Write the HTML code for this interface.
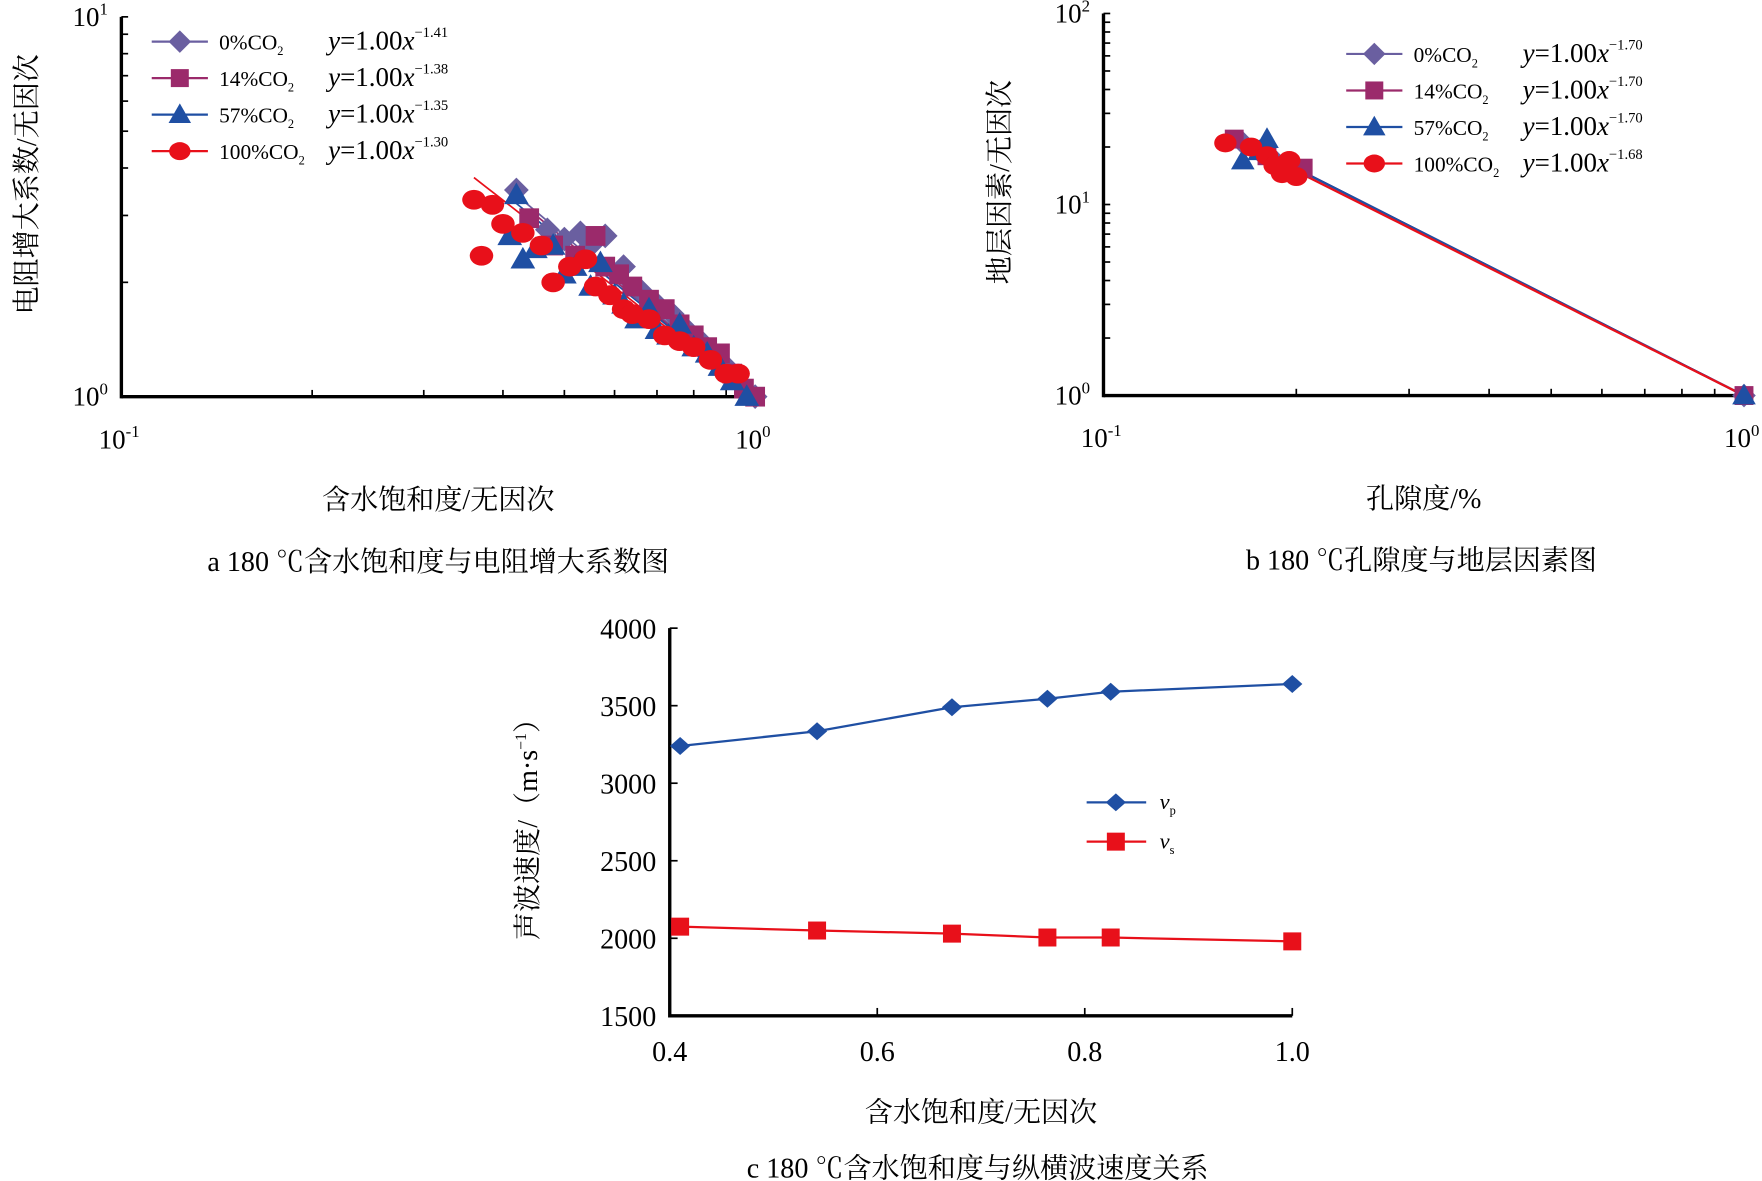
<!DOCTYPE html>
<html><head><meta charset="utf-8">
<style>
html,body{margin:0;padding:0;background:#fff;}
svg{display:block;font-family:"Liberation Serif","Noto Serif CJK SC",serif;}
</style></head>
<body>
<svg id="fig" width="1762" height="1181" viewBox="0 0 1568 1051" xmlns="http://www.w3.org/2000/svg">
<g id="ga"></g>
<g id="gb"></g>
<g id="gc"></g>
</svg>
<script>
// ---- Chart a data ----
const aSw0 = [0.42,0.47,0.50,0.53,0.55,0.58,0.62,0.66,0.70,0.74,0.78,0.82,0.86,0.90,0.95,1.0];
const aI0  = [3.5,2.75,2.6,2.7,2.5,2.65,2.2,1.9,1.75,1.65,1.5,1.4,1.3,1.2,1.08,1.0];
const aSw14 = [0.44,0.48,0.52,0.56,0.58,0.61,0.64,0.68,0.72,0.76,0.80,0.84,0.88,0.92,0.96,1.0];
const aI14  = [2.95,2.5,2.35,2.65,2.2,2.1,1.95,1.8,1.7,1.55,1.45,1.35,1.3,1.15,1.05,1.0];
const aSw57 = [0.42,0.41,0.43,0.45,0.48,0.50,0.52,0.55,0.57,0.60,0.62,0.65,0.68,0.70,0.73,0.76,0.80,0.84,0.88,0.92,0.97];
const aI57  = [3.4,2.65,2.3,2.45,2.5,2.1,2.2,1.95,2.25,1.85,1.75,1.6,1.7,1.5,1.45,1.55,1.35,1.3,1.2,1.1,1.0];
const aSw100 = [0.36,0.385,0.37,0.40,0.43,0.46,0.48,0.51,0.54,0.56,0.59,0.62,0.64,0.68,0.72,0.76,0.80,0.85,0.90,0.94];
const aI100  = [3.3,3.2,2.35,2.85,2.7,2.5,2.0,2.2,2.3,1.95,1.85,1.7,1.65,1.6,1.45,1.4,1.35,1.25,1.15,1.15];
const aExp = [1.41,1.38,1.35,1.30];
// ---- Chart b data ----
const bPhi0 = [0.165,0.175,0.185,0.195,0.20,1.0];
const bF0 = [21,19,17,16,15,1.0];
const bPhi14 = [0.16,0.18,0.19,0.20,0.205,1.0];
const bF14 = [22,18,16,15,15.5,1.0];
const bPhi57 = [0.165,0.18,0.175,0.19,1.0];
const bF57 = [17,22,19,16,1.0];
const bPhi100 = [0.155,0.17,0.18,0.185,0.19,0.195,0.20,0.19];
const bF100 = [21,20,18,16,15,17,14,14.5];
const bExp = [1.70,1.70,1.70,1.68];
// ---- Chart c data ----
const cSw = [0.41,0.542,0.672,0.764,0.825,1.0];
const cVp = [3240,3335,3490,3545,3590,3640];
const cVs = [2075,2050,2030,2005,2005,1980];
const cTicksX = ["0.4","0.6","0.8","1.0"];
const cTicksY = [1500,2000,2500,3000,3500,4000];

const NS="http://www.w3.org/2000/svg";
function mk(parent,tag,attrs,text){const e=document.createElementNS(NS,tag);for(const k in attrs)e.setAttribute(k,attrs[k]);if(text!==undefined)e.textContent=text;parent.appendChild(e);return e;}
const COL=['#6a5fa0','#9b2a6b','#1f4fa3','#e8101a'];
function marker(g,type,x,y,s){
  let e;
  if(type===0) e=mk(g,'polygon',{points:`${x},${y-s} ${x+s},${y} ${x},${y+s} ${x-s},${y}`,fill:COL[0]});
  else if(type===1) e=mk(g,'rect',{x:x-s*0.8,y:y-s*0.8,width:s*1.6,height:s*1.6,fill:COL[1]});
  else if(type===2) e=mk(g,'polygon',{points:`${x},${y-s} ${x+s},${y+s*0.75} ${x-s},${y+s*0.75}`,fill:COL[2]});
  else e=mk(g,'ellipse',{cx:x,cy:y,rx:s*0.95,ry:s*0.8,fill:COL[3]});
  
  
  return e;
}
function logAxes(g,x0,x1,y0,yDec,nDec,xlab,ylab,cap,ylabX,capX,legX,legY,exps){
  const X=v=>x0+(Math.log10(v)+1)*(x1-x0);
  const Y=v=>y0-Math.log10(v)*yDec;
  let ax=mk(g,'line',{x1:x0,y1:y0,x2:x1,y2:y0,stroke:'#000','stroke-width':3});
  
  let ay=mk(g,'line',{x1:x0,y1:y0+1.5,x2:x0,y2:y0-nDec*yDec,stroke:'#000','stroke-width':3});
  
  for(let d=0;d<nDec;d++)for(let m=1;m<=10;m++){const yy=Y(Math.pow(10,d)*m);if(m>1||d===0)mk(g,'line',{x1:x0,y1:yy,x2:x0+6,y2:yy,stroke:'#000','stroke-width':1.5});}
  for(let m=2;m<=9;m++){const xx=X(m/10);mk(g,'line',{x1:xx,y1:y0,x2:xx,y2:y0-6,stroke:'#000','stroke-width':1.5});}
  for(let d=0;d<=nDec;d++){const t=mk(g,'text',{x:x0-12,y:Y(Math.pow(10,d))+8,'text-anchor':'end','font-size':24});t.innerHTML=`10<tspan dy="-10" font-size="15">${d}</tspan>`;}
  [[x0,'-1'],[x1,'0']].forEach(([xx,p])=>{const t=mk(g,'text',{x:xx-2,y:y0+46,'text-anchor':'middle','font-size':24});t.innerHTML=`10<tspan dy="-10" font-size="15">${p}</tspan>`;});
  let xl=mk(g,'text',{x:(x0+x1)/2,y:y0+100,'text-anchor':'middle','font-size':25},xlab);
  let yl=mk(g,'text',{x:0,y:0,'text-anchor':'middle','font-size':25,transform:`translate(${ylabX},${y0-nDec*yDec/2-20}) rotate(-90)`},ylab);
  let cp=mk(g,'text',{x:capX,y:y0+155,'text-anchor':'middle','font-size':25},cap);
  const names=['0%CO','14%CO','57%CO','100%CO'];
  names.forEach((n,i)=>{const ly=legY+i*32.5;const lg=mk(g,'g',{});
    mk(lg,'line',{x1:legX,y1:ly,x2:legX+50,y2:ly,stroke:COL[i],'stroke-width':2});marker(lg,i,legX+25,ly,10);
    const t=mk(lg,'text',{x:legX+60,y:ly+7,'font-size':19});t.innerHTML=`${n}<tspan dy="5" font-size="11">2</tspan>`;
    const t2=mk(lg,'text',{x:legX+157,y:ly+7,'font-size':24});t2.innerHTML=`<tspan font-style="italic">y</tspan>=1.00<tspan font-style="italic">x</tspan><tspan dy="-11" font-size="13">−${exps[i].toFixed(2)}</tspan>`;});
  return {X,Y};
}
// Chart a
const ga=document.getElementById('ga');
const A=logAxes(ga,108,672,353,338,1,'含水饱和度/无因次','电阻增大系数/无因次','a  180 ℃含水饱和度与电阻增大系数图',32,390,135,37,aExp);
const aS=[[aSw0,aI0],[aSw14,aI14],[aSw57,aI57],[aSw100,aI100]];
aS.forEach(([xs,ys],i)=>{let pts=[];const mn=Math.min(...xs);for(let k=0;k<=40;k++){const v=mn+(1-mn)*k/40;pts.push(A.X(v)+','+A.Y(Math.pow(v,-aExp[i])));}
  const l=mk(ga,'polyline',{points:pts.join(' '),fill:'none',stroke:COL[i],'stroke-width':1.5});});
aS.forEach(([xs,ys],i)=>xs.forEach((v,k)=>marker(ga,i,A.X(v),A.Y(ys[k]),11)));
// Chart b
const gb=document.getElementById('gb');
const B=logAxes(gb,982,1552,352,170,2,'孔隙度/%','地层因素/无因次','b  180 ℃孔隙度与地层因素图',898,1265,1198,48,bExp);
const bS=[[bPhi0,bF0],[bPhi14,bF14],[bPhi57,bF57],[bPhi100,bF100]];
bS.forEach(([xs,ys],i)=>{let pts=[];const mn=Math.min(...xs);for(let k=0;k<=40;k++){const v=mn+(1-mn)*k/40;pts.push(B.X(v)+','+B.Y(Math.pow(v,-bExp[i])));}
  const l=mk(gb,'polyline',{points:pts.join(' '),fill:'none',stroke:COL[i],'stroke-width':2});});
bS.forEach(([xs,ys],i)=>xs.forEach((v,k)=>marker(gb,i,B.X(v),B.Y(ys[k]),10.5)));
// Chart c
const gc=document.getElementById('gc');
const cx0=596,cx1=1150,cy0=904,cy1=559;
const CX=v=>cx0+(v-0.4)/0.6*(cx1-cx0);
const CY=v=>cy0-(v-1500)/2500*(cy0-cy1);
let cax=mk(gc,'line',{x1:cx0,y1:cy0,x2:cx1,y2:cy0,stroke:'#000','stroke-width':3});
let cay=mk(gc,'line',{x1:cx0,y1:cy0+1.5,x2:cx0,y2:cy1,stroke:'#000','stroke-width':3});
cTicksY.forEach(v=>{mk(gc,'line',{x1:cx0,y1:CY(v),x2:cx0+7,y2:CY(v),stroke:'#000','stroke-width':1.5});const t=mk(gc,'text',{x:cx0-12,y:CY(v)+9,'text-anchor':'end','font-size':25},String(v));});
cTicksX.forEach(s=>{const v=parseFloat(s);mk(gc,'line',{x1:CX(v),y1:cy0,x2:CX(v),y2:cy0-7,stroke:'#000','stroke-width':1.5});const t=mk(gc,'text',{x:CX(v),y:cy0+40,'text-anchor':'middle','font-size':25},s);});
let cxl=mk(gc,'text',{x:873,y:998,'text-anchor':'middle','font-size':25},'含水饱和度/无因次');
let cyl=mk(gc,'text',{x:0,y:0,'text-anchor':'middle','font-size':25,transform:'translate(478,732) rotate(-90)'});cyl.innerHTML='声波速度/（m·s<tspan dy="-10" font-size="14">−1</tspan><tspan dy="10">）</tspan>';
let ccp=mk(gc,'text',{x:870,y:1048,'text-anchor':'middle','font-size':25},'c  180 ℃含水饱和度与纵横波速度关系');
[[cVp,2,0],[cVs,3,1]].forEach(([vals,ci,mt])=>{const col=ci===2?'#1f4fa3':'#e8101a';
  const l=mk(gc,'polyline',{points:cSw.map((v,k)=>CX(v)+','+CY(vals[k])).join(' '),fill:'none',stroke:col,'stroke-width':2});
  cSw.forEach((v,k)=>{let e;if(mt===0)e=mk(gc,'polygon',{points:`${CX(v)},${CY(vals[k])-8} ${CX(v)+9},${CY(vals[k])} ${CX(v)},${CY(vals[k])+8} ${CX(v)-9},${CY(vals[k])}`,fill:col});else e=mk(gc,'rect',{x:CX(v)-8,y:CY(vals[k])-8,width:16,height:16,fill:col});});});
[['p',714,0],['s',749,1]].forEach(([sub,ly,mt])=>{const col=mt===0?'#1f4fa3':'#e8101a';const lg=mk(gc,'g',{});
  mk(lg,'line',{x1:967,y1:ly,x2:1020,y2:ly,stroke:col,'stroke-width':2});
  if(mt===0)mk(lg,'polygon',{points:`993,${ly-8} 1002,${ly} 993,${ly+8} 984,${ly}`,fill:col});else mk(lg,'rect',{x:985,y:ly-8,width:16,height:16,fill:col});
  const t=mk(lg,'text',{x:1032,y:ly+6,'font-size':20,'font-style':'italic'});t.innerHTML=`v<tspan dy="5" font-size="11" font-style="normal">${sub}</tspan>`;});
</script>
</body></html>
